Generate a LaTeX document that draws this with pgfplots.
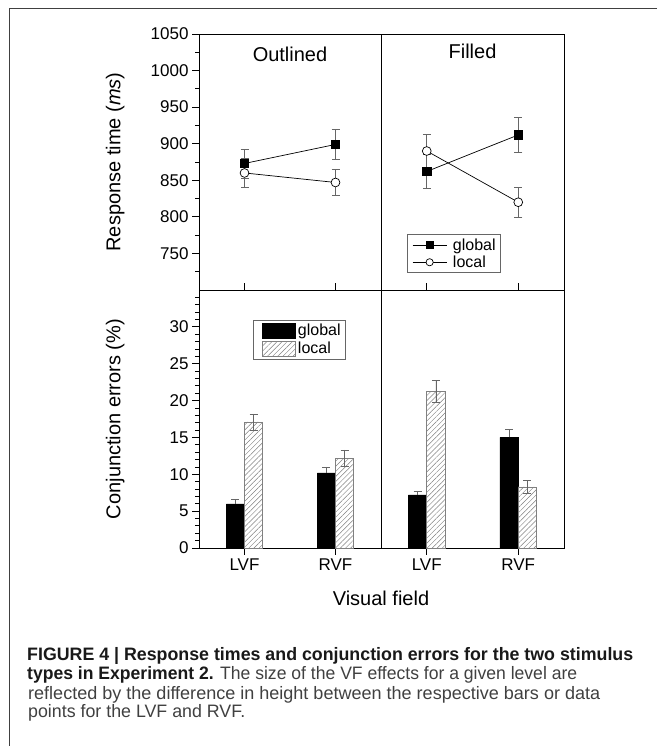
\documentclass[border=0pt]{standalone}
\usepackage{pgfplots}
\pgfplotsset{compat=1.18}
\usepackage{fontspec}
\setmainfont{Liberation Sans}
\usetikzlibrary{patterns.meta}
\definecolor{ebc}{gray}{0.4}
\definecolor{capc}{gray}{0.25}
\definecolor{capb}{gray}{0.1}

\pgfplotsset{
  panel/.style={
    scale only axis, width=182pt,
    axis line style={line width=0.9pt},
    tick style={black, line width=0.8pt},
    major tick length=7pt, minor tick length=4pt,
    tick align=outside,
    xmin=0, xmax=2, xtick={0.5,1.5},
    xtick pos=left, ytick pos=left,
    /pgf/number format/assume math mode=true,
    /pgf/number format/1000 sep={},
    tick label style={font=\fontsize{17}{20}\selectfont},
    label style={font=\fontsize{20}{24}\selectfont},
    title style={font=\fontsize{20}{24}\selectfont},
    clip=false,
  },
  toppanel/.style={panel, height=256pt, ymin=700, ymax=1050,
    ytick={750,800,...,1050}, minor ytick={725,775,...,1025},
    xticklabels={}, xtick style={yshift=7pt}},
  botpanel/.style={panel, height=258pt, ymin=0, ymax=35,
    ytick={0,5,...,30}, minor ytick={1,...,34},
    xticklabels={LVF,RVF}},
  noy/.style={ytick=\empty, minor ytick=\empty},
  gline/.style={black, line width=0.7pt, mark=square*, mark size=4.2pt,
    mark options={solid, fill=black},
    legend image code/.code={\draw[mark repeat=2,mark phase=2,##1,mark size=3.4pt] plot coordinates {(0pt,0pt) (17pt,0pt) (34pt,0pt)}; \path (-2pt,0pt) (38pt,0pt);},
    error bars/.cd, y dir=both, y explicit,
    error bar style={ebc, line width=0.6pt},
    error mark options={rotate=90, mark size=4pt, ebc, line width=0.6pt}},
  lline/.style={black, line width=0.7pt, mark=*, mark size=4.4pt,
    mark options={solid, fill=white},
    legend image code/.code={\draw[mark repeat=2,mark phase=2,##1,mark size=3.6pt] plot coordinates {(0pt,0pt) (17pt,0pt) (34pt,0pt)}; \path (-2pt,0pt) (38pt,0pt);},
    error bars/.cd, y dir=both, y explicit,
    error bar style={ebc, line width=0.6pt},
    error mark options={rotate=90, mark size=4pt, ebc, line width=0.6pt}},
  gbar/.style={ybar, bar width=0.2, bar shift=0, fill=black, draw=black,
    legend image code/.code={\draw[##1] (0pt,-7.5pt) rectangle (33pt,7.5pt); \path (-6pt,0pt);},
    error bars/.cd, y dir=plus, y explicit,
    error bar style={ebc, line width=0.6pt},
    error mark options={rotate=90, mark size=4pt, ebc, line width=0.6pt}},
  lbar/.style={ybar, bar width=0.2, bar shift=0, fill=white, draw=gray,
    line width=0.6pt,
    postaction={pattern={Lines[angle=45, distance=3.6pt, line width=0.45pt]}, pattern color=gray},
    legend image code/.code={\draw[##1] (0pt,-7.5pt) rectangle (33pt,7.5pt); \path (-6pt,0pt);},
    error bars/.cd, y dir=both, y explicit,
    error bar style={ebc, line width=0.6pt},
    error mark options={rotate=90, mark size=4pt, ebc, line width=0.6pt}},
}

\begin{document}
\begin{tikzpicture}
\useasboundingbox (0pt,0pt) rectangle (657pt,746pt);
\draw[black!75, line width=1pt] (657pt,737pt) -- (9pt,737pt) -- (9pt,0pt);

% top-left: Outlined
\begin{axis}[toppanel, at={(199pt,456pt)}, anchor=south west,
  ylabel={Response time (\textit{ms})},
  ylabel style={at={(axis description cs:-0.46,0.5)}, anchor=center},
  title={Outlined}, title style={at={(axis description cs:0.5,0.898)}, anchor=center}]
\addplot[gline] coordinates {(0.5,873) +- (0,20) (1.5,899) +- (0,21)};
\addplot[lline] coordinates {(0.5,860) +- (0,20) (1.5,847) +- (0,18)};
\end{axis}

% top-right: Filled
\begin{axis}[toppanel, noy, at={(381pt,456pt)}, anchor=south west, width=183pt,
  title={Filled}, title style={at={(axis description cs:0.5,0.91)}, anchor=center},
  legend style={at={(axis description cs:0.142,0.066)}, anchor=south west,
    draw=gray!80!black, line width=0.6pt, fill=white,
    font=\fontsize{16}{19}\selectfont, inner xsep=3pt, inner ysep=2pt,
    row sep=0pt},
  legend cell align=left]
\addplot[gline] coordinates {(0.5,862) +- (0,23) (1.5,912) +- (0,24)};
\addplot[lline] coordinates {(0.5,890) +- (0,23) (1.5,820) +- (0,21)};
\legend{global,local}
\end{axis}

% bottom-left
\begin{axis}[botpanel, at={(199pt,198pt)}, anchor=south west,
  ylabel={Conjunction errors (\%)},
  ylabel style={at={(axis description cs:-0.46,0.5)}, anchor=center},
  xlabel={Visual field},
  xlabel style={at={(axis description cs:1,-0.194)}, anchor=center},
  legend style={at={(axis description cs:0.297,0.884)}, anchor=north west,
    draw=gray!80!black, line width=0.6pt, fill=white,
    font=\fontsize{16}{19}\selectfont, inner xsep=3pt, inner ysep=2pt,
    row sep=1pt},
  legend cell align=left]
\addplot[gbar] coordinates {(0.4,6.0) +- (0,0.6) (1.4,10.2) +- (0,0.8)};
\addplot[lbar] coordinates {(0.6,17.1) +- (0,1.1) (1.6,12.2) +- (0,1.1)};
\legend{global,local}
\end{axis}

% bottom-right
\begin{axis}[botpanel, noy, at={(381pt,198pt)}, anchor=south west, width=183pt]
\addplot[gbar] coordinates {(0.4,7.2) +- (0,0.55) (1.4,15.0) +- (0,1.1)};
\addplot[lbar] coordinates {(0.6,21.2) +- (0,1.5) (1.6,8.3) +- (0,0.9)};
\end{axis}

% caption
\node[anchor=base west, inner sep=0, text=capb] at (27pt,85pt)
  {\resizebox{606pt}{\height}{\fontsize{18}{20}\selectfont\bfseries FIGURE 4 | Response times and conjunction errors for the two stimulus}};
\node[anchor=base west, inner sep=0, text=capc] at (27pt,66pt)
  {\resizebox{550pt}{\height}{\fontsize{18}{20}\selectfont{\bfseries\color{capb}types in Experiment 2.} The size of the VF effects for a given level are}};
\node[anchor=base west, inner sep=0, text=capc] at (28pt,46pt)
  {\resizebox{572pt}{\height}{\fontsize{18}{20}\selectfont reflected by the difference in height between the respective bars or data}};
\node[anchor=base west, inner sep=0, text=capc] at (28pt,28pt)
  {\resizebox{217pt}{\height}{\fontsize{18}{20}\selectfont points for the LVF and RVF.}};
\end{tikzpicture}
\end{document}
